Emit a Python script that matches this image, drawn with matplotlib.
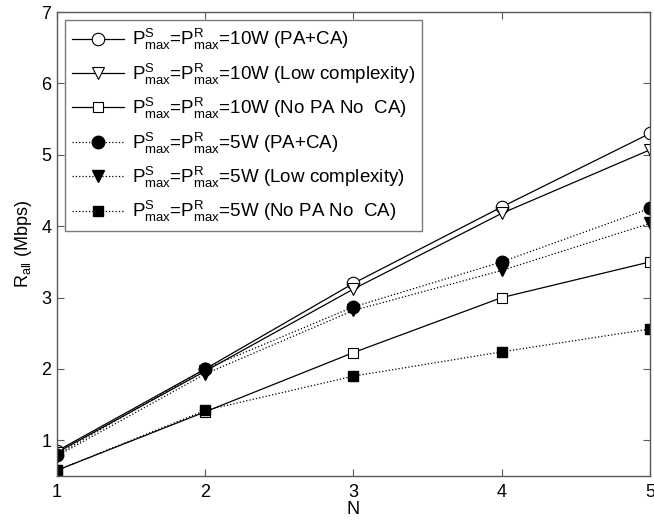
import matplotlib.pyplot as plt

plt.rcParams['font.family'] = ['Liberation Sans', 'DejaVu Sans']
plt.rcParams['mathtext.fontset'] = 'custom'
plt.rcParams['mathtext.rm'] = 'Liberation Sans'
plt.rcParams['mathtext.it'] = 'Liberation Sans'
plt.rcParams['mathtext.default'] = 'regular'

# Данные
N = [1, 2, 3, 4, 5]
r10_pa_ca = [0.85, 2.00, 3.20, 4.27, 5.30]
r10_low = [0.83, 1.97, 3.12, 4.18, 5.07]
r10_none = [0.58, 1.40, 2.23, 3.00, 3.50]
r5_pa_ca = [0.80, 2.00, 2.87, 3.50, 4.25]
r5_low = [0.78, 1.93, 2.82, 3.38, 4.04]
r5_none = [0.58, 1.42, 1.90, 2.24, 2.56]

pm = r'$P^S_{max}$=$P^R_{max}$'
labels = [pm + '=10W (PA+CA)',
          pm + '=10W (Low complexity)',
          pm + '=10W (No PA No  CA)',
          pm + '=5W (PA+CA)',
          pm + '=5W (Low complexity)',
          pm + '=5W (No PA No  CA)']

fig = plt.figure(figsize=[6.54, 5.22], dpi=100)
ax = fig.add_axes([0.087, 0.088, 0.907, 0.889])

ax.plot(N, r10_pa_ca, '-', color='k', lw=0.9, marker='o', ms=9,
        mfc='white', mec='k', mew=0.8, label=labels[0])
ax.plot(N, r10_low, '-', color='k', lw=0.9, marker='v', ms=9,
        mfc='white', mec='k', mew=0.8, label=labels[1])
ax.plot(N, r10_none, '-', color='k', lw=0.9, marker='s', ms=7,
        mfc='white', mec='k', mew=0.8, label=labels[2])
ax.plot(N, r5_pa_ca, ':', color='k', lw=0.9, marker='o', ms=9,
        mfc='k', mec='k', label=labels[3])
ax.plot(N, r5_low, ':', color='k', lw=0.9, marker='v', ms=9,
        mfc='k', mec='k', label=labels[4])
ax.plot(N, r5_none, ':', color='k', lw=0.9, marker='s', ms=7,
        mfc='k', mec='k', label=labels[5])

ax.set_xlim(1, 5)
ax.set_ylim(0.5, 7)
ax.set_xticks([1, 2, 3, 4, 5])
ax.set_yticks([1, 2, 3, 4, 5, 6, 7])
ax.tick_params(direction='in', top=True, right=True, labelsize=13,
               length=5, color='0.35')
ax.tick_params(axis='x', pad=6)
ax.tick_params(axis='y', pad=4)
for s in ax.spines.values():
    s.set_color('0.35')
    s.set_linewidth(1.0)

ax.set_xlabel('N', fontsize=13, labelpad=0)
ax.set_ylabel(r'$R_{all}$ (Mbps)', fontsize=13, labelpad=5)

leg = ax.legend(loc='upper left', fontsize=13.5, frameon=True, fancybox=False,
                edgecolor='0.35', handlelength=2.8, borderaxespad=0.45,
                labelspacing=0.5, handletextpad=0.4, borderpad=0.35)
leg.get_frame().set_linewidth(1.0)

fig.savefig('out.png', dpi=100)
